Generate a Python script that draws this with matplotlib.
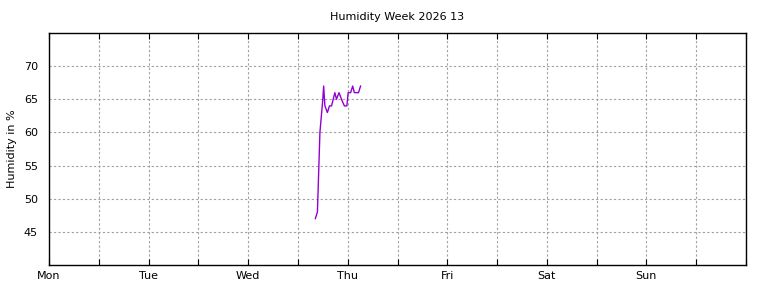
import numpy as np
import matplotlib
matplotlib.use("Agg")
import matplotlib.pyplot as plt

# Humidity readings, time in hours since Monday 00:00
hours = [64.2, 64.7, 65.3, 66.0, 66.2, 66.5, 67.1, 67.6, 68.1, 68.9, 69.3,
         69.9, 70.5, 71.2, 71.8, 72.1, 72.7, 73.2, 73.6, 74.6, 75.1]
humidity = [47, 48, 60, 65, 67, 64, 63, 64, 64, 66, 65,
            66, 65, 64, 64, 66, 66, 67, 66, 66, 67]
days = ["Mon", "Tue", "Wed", "Thu", "Fri", "Sat", "Sun"]
y_ticks = [45, 50, 55, 60, 65, 70]

fig = plt.figure(figsize=(7.68, 2.88), dpi=100)
ax = fig.add_axes([49/768, 23/288, 697/768, 232/288])

ax.plot(hours, humidity, color="#9400d3", lw=1)

# grid every 12 h, labels only at day starts
xt = np.arange(0, 169, 12)
ax.set_xticks(xt)
ax.set_xticklabels([days[int(h // 24)] if h % 24 == 0 and h < 168 else "" for h in xt])
ax.set_xlim(0, 168)
ax.set_ylim(40, 75)
ax.set_yticks(y_ticks)

ax.grid(True, color="#a0a0a0", ls=(0, (2, 2)), lw=0.8)
ax.tick_params(axis="x", direction="in", length=4, top=True, labelsize=8, pad=4)
ax.tick_params(axis="y", direction="in", length=0, labelsize=8, pad=8)
for s in ax.spines.values():
    s.set_linewidth(1)

ax.set_ylabel("Humidity in %", fontsize=8, labelpad=5)
ax.set_title("Humidity Week 2026 13", fontsize=8, pad=9)

fig.savefig("out.png", dpi=100)
